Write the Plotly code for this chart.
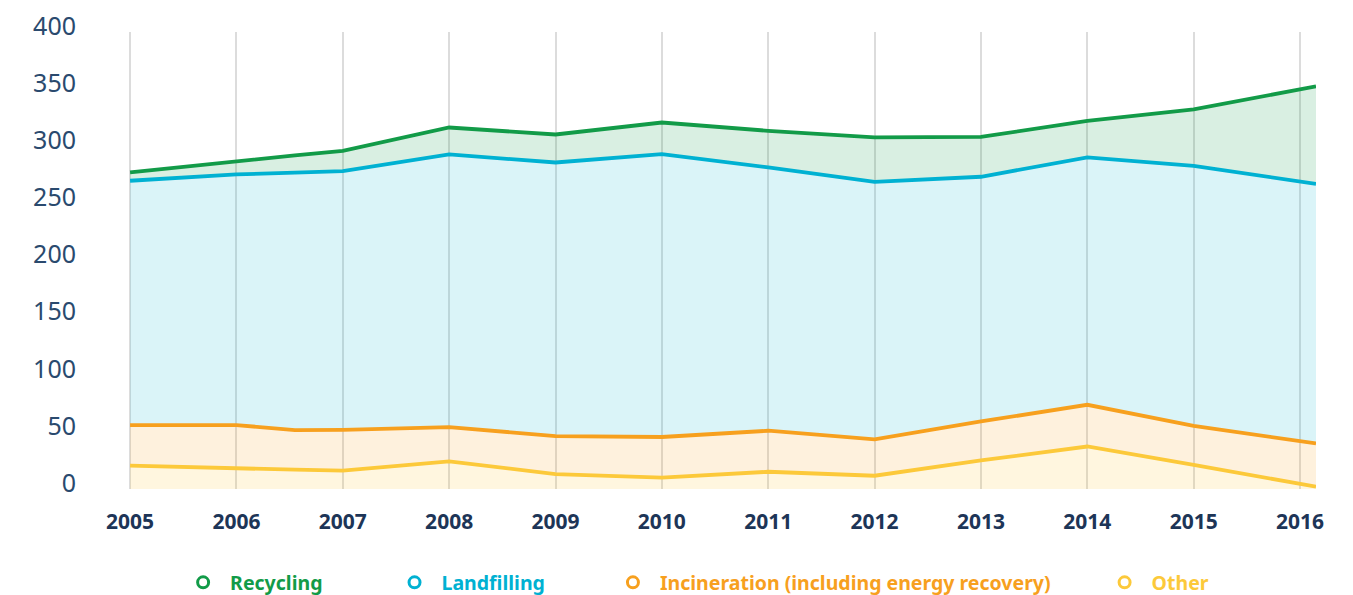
import plotly.graph_objects as go

# x positions (years) of the data points
years = [2005, 2006, 2006.55, 2007, 2008, 2009, 2010, 2011, 2012, 2013, 2014, 2015, 2016.15]
tick_years = [2005, 2006, 2007, 2008, 2009, 2010, 2011, 2012, 2013, 2014, 2015, 2016]
tick_labels = [str(y) for y in tick_years]
y_ticks = [0, 50, 100, 150, 200, 250, 300, 350, 400]

# per-series values (stacked from bottom: Other, Incineration, Landfilling, Recycling)
other = [20.4, 17.7, 16.9, 16.0, 24.1, 13.1, 9.9, 15.1, 11.6, 25.0, 37.2, 21.2, 2.0]
incineration = [35.5, 38.2, 34.7, 35.8, 30.1, 33.2, 35.6, 35.9, 31.8, 34.1, 36.5, 34.1, 37.9]
landfilling = [213.9, 219.4, 225.3, 226.4, 238.6, 239.5, 247.6, 230.5, 225.5, 214.2, 216.5, 227.6, 227.2]
recycling = [7.3, 11.9, 15.1, 17.8, 23.6, 24.5, 27.7, 32.0, 38.8, 34.9, 32.0, 49.3, 85.4]

series = [
    ("Other", other, "#fcc93a", "rgba(252,201,58,0.16)"),
    ("Incineration (including energy recovery)", incineration, "#f7a01e", "rgba(247,160,30,0.15)"),
    ("Landfilling", landfilling, "#00b1d2", "rgba(0,177,210,0.145)"),
    ("Recycling", recycling, "#129b48", "rgba(18,155,72,0.16)"),
]

fig = go.Figure()
for name, vals, lc, fc in series:
    fig.add_trace(go.Scatter(
        x=years, y=vals, name=name, mode="lines", stackgroup="one",
        line=dict(color=lc, width=3.8), fillcolor=fc, showlegend=False,
    ))

# legend entries (open circles), one legend each so they can be placed freely
legend_order = [("Recycling", "#129b48", "legend", 0.0397),
                ("Landfilling", "#00b1d2", "legend2", 0.2178),
                ("Incineration (including energy recovery)", "#f7a01e", "legend3", 0.4018),
                ("Other", "#fcc93a", "legend4", 0.816)]
legend_layout = {}
for name, col, lg, lx in legend_order:
    fig.add_trace(go.Scatter(
        x=[None], y=[None], mode="markers", name=name, legend=lg,
        marker=dict(symbol="circle-open", size=11, color=col, line=dict(width=3, color=col)),
    ))
    legend_layout[lg] = dict(
        x=lx, y=-0.205, xanchor="left", yanchor="middle", orientation="h",
        itemwidth=44,
        font=dict(family="Noto Sans", size=19.5, color=col, weight="bold"),
        bgcolor="rgba(0,0,0,0)",
    )

# the page body adds an 8px margin, so the figure is sized to fit the window
fig.update_layout(
    width=1345, height=587,
    margin=dict(l=121, r=37, t=24, b=106, autoexpand=False),
    paper_bgcolor="white", plot_bgcolor="white",
    xaxis=dict(
        range=[2004.99, 2016.15], tickvals=tick_years, ticktext=tick_labels,
        showgrid=True, gridcolor="#dcdcdc", gridwidth=2, zeroline=False,
        showline=False, ticks="", ticklabelstandoff=18, automargin=False,
        tickfont=dict(family="Noto Sans", size=21, color="#1d3557", weight="bold"),
    ),
    yaxis=dict(
        range=[0, 400], tickvals=y_ticks,
        showgrid=False, zeroline=False, showline=False, ticks="",
        ticklabelstandoff=52, ticklabelshift=-6, automargin=False,
        ticklabeloverflow="allow",
        tickfont=dict(family="Noto Sans", size=25, color="#2a4a6e"),
    ),
    showlegend=True,
    **legend_layout,
)

fig.write_html("out.html")
